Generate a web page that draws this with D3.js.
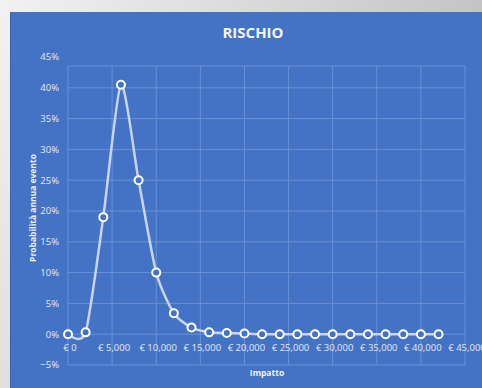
<!DOCTYPE html>
<html>
<head>
<meta charset="utf-8">
<script src="https://cdn.jsdelivr.net/npm/d3@7"></script>
<style>
  html,body{margin:0;padding:0;background:#fff;}
  svg{display:block;font-family:"Open Sans",sans-serif;}
</style>
</head>
<body>
<div id="chart"></div>
<script>
const impatto=[0,2000,4000,6000,8000,10000,12000,14000,16000,18000,20000,22000,24000,26000,28000,30000,32000,34000,36000,38000,40000,42000];
const probabilita=[0,0.003,0.19,0.405,0.25,0.10,0.034,0.011,0.003,0.002,0.001,0,0,0,0,0,0,0,0,0,0,0];
const xTicks=[0,5000,10000,15000,20000,25000,30000,35000,40000,45000];
const yTicks=[-0.05,0,0.05,0.10,0.15,0.20,0.25,0.30,0.35,0.40,0.45];

const W=482,H=388;
const svg=d3.select("#chart").append("svg").attr("width",W).attr("height",H);

const defs=svg.append("defs");
const bg=defs.append("linearGradient").attr("id","bg")
  .attr("x1","0").attr("y1","0").attr("x2","1").attr("y2","0.4");
bg.append("stop").attr("offset","0").attr("stop-color","#f2f2f2");
bg.append("stop").attr("offset","1").attr("stop-color","#bdbdbd");
svg.append("rect").attr("width",W).attr("height",H).attr("fill","url(#bg)");

// chart area
svg.append("rect").attr("x",10).attr("y",12).attr("width",W-10).attr("height",H-12)
  .attr("fill","#4472c4");
svg.append("line").attr("x1",10.5).attr("x2",10.5).attr("y1",12).attr("y2",H)
  .attr("stroke","#3a63ad").attr("stroke-width",1);

const x=d3.scaleLinear().domain([0,45000]).range([68,465]);
const y=d3.scaleLinear().domain([-0.05,0.45]).range([365,57]);
const plotTop=66;
const grid="#6b90d8";

// gridlines
svg.append("g").selectAll("line").data(yTicks.filter(d=>d<0.45)).join("line")
  .attr("x1",x(0)).attr("x2",x(45000))
  .attr("y1",d=>y(d)).attr("y2",d=>y(d))
  .attr("stroke",grid).attr("stroke-width",1);
svg.append("line").attr("x1",x(0)).attr("x2",x(45000))
  .attr("y1",plotTop).attr("y2",plotTop).attr("stroke",grid);
svg.append("g").selectAll("line").data(xTicks).join("line")
  .attr("x1",d=>x(d)).attr("x2",d=>x(d))
  .attr("y1",plotTop).attr("y2",y(-0.05))
  .attr("stroke",grid).attr("stroke-width",1);

// tick labels
const fmtPct=d3.format(".0%");
svg.append("g").selectAll("text").data(yTicks).join("text")
  .attr("x",59).attr("y",d=>y(d)).attr("dy","0.35em")
  .attr("text-anchor","end").attr("font-size",9.5).attr("fill","#e4eaf7")
  .text(d=>fmtPct(d));
const fmtEur=d3.format(",");
svg.append("g").selectAll("text").data(xTicks).join("text")
  .attr("x",d=>x(d)+2).attr("y",350.5)
  .attr("text-anchor","middle").attr("font-size",9.5).attr("fill","#e4eaf7")
  .text(d=>"€ "+fmtEur(d));

// titles
svg.append("text").attr("x",253).attr("y",38).attr("text-anchor","middle")
  .attr("font-size",15).attr("font-weight",700).attr("fill","#f4f6fc")
  .text("RISCHIO");
svg.append("text").attr("x",267).attr("y",376).attr("text-anchor","middle")
  .attr("font-size",8.5).attr("font-weight",700).attr("fill","#eef2fb")
  .text("Impatto");
svg.append("text").attr("transform","translate(36,208) rotate(-90)")
  .attr("text-anchor","middle")
  .attr("font-size",8.5).attr("font-weight",700).attr("fill","#eef2fb")
  .text("Probabilità annua evento");

// series
const pts=impatto.map((v,i)=>[v,probabilita[i]]);
const line=d3.line().x(d=>x(d[0])).y(d=>y(d[1])).curve(d3.curveCardinal.tension(0.3));
svg.append("path").datum(pts).attr("d",line)
  .attr("fill","none").attr("stroke","#c9d4f1").attr("stroke-width",2.5)
  .attr("stroke-linejoin","round");
svg.append("g").selectAll("circle").data(pts).join("circle")
  .attr("cx",d=>x(d[0])).attr("cy",d=>y(d[1])).attr("r",4)
  .attr("fill","#4472c4").attr("stroke","#ffffff").attr("stroke-width",2);
</script>
</body>
</html>
